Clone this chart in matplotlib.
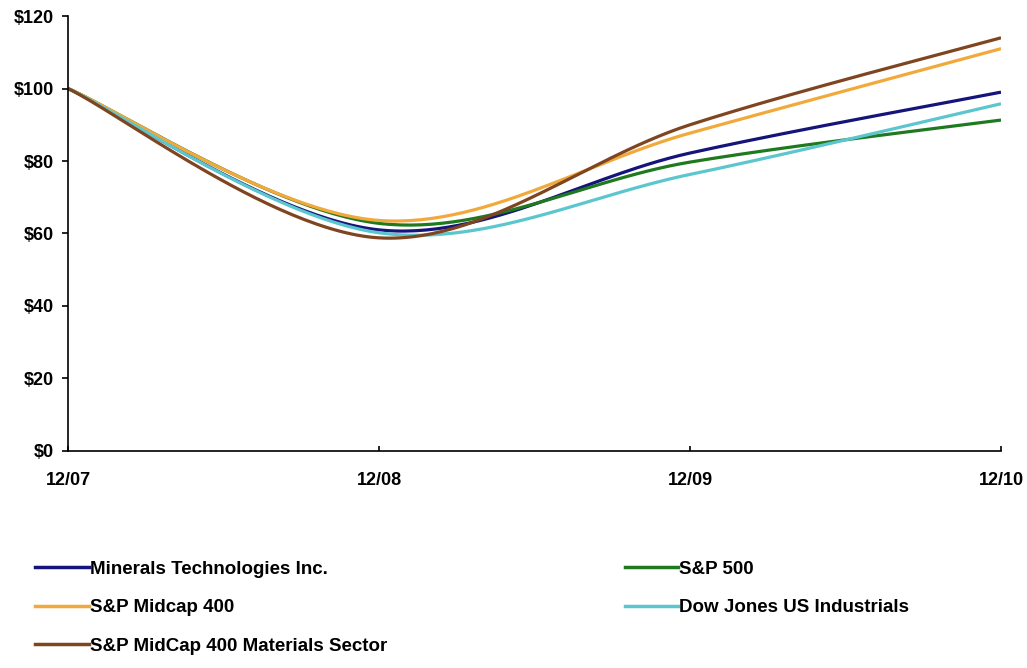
import numpy as np
import matplotlib.pyplot as plt
from matplotlib.lines import Line2D

dates = ['12/07', '12/08', '12/09', '12/10']

minerals = [100, 61.0, 82.2, 99.0]
sp500 = [100, 62.8, 79.7, 91.3]
midcap = [100, 63.6, 87.7, 111.0]
dow = [100, 60.2, 76.3, 95.8]
materials = [100, 58.8, 90.0, 114.0]

names = ['Minerals Technologies Inc.', 'S&P 500', 'S&P Midcap 400',
         'Dow Jones US Industrials', 'S&P MidCap 400 Materials Sector']
colors = ['#14147a', '#1f7a1f', '#f2a93b', '#5cc6cf', '#7e4520']
series = [minerals, sp500, midcap, dow, materials]


def smooth(xs, ys, n=60):
    # excel style smoothed line (bezier through the points)
    xs = np.asarray(xs, float)
    ys = np.asarray(ys, float)
    px = np.concatenate([[xs[0]], xs, [xs[-1]]])
    py = np.concatenate([[ys[0]], ys, [ys[-1]]])
    ox, oy = [], []
    t = np.linspace(0, 1, n)
    for i in range(1, len(px) - 2):
        p0 = np.array([px[i], py[i]])
        p3 = np.array([px[i + 1], py[i + 1]])
        p1 = p0 + (np.array([px[i + 1], py[i + 1]]) - np.array([px[i - 1], py[i - 1]])) / 6
        p2 = p3 - (np.array([px[i + 2], py[i + 2]]) - np.array([px[i], py[i]])) / 6
        b = ((1 - t) ** 3)[:, None] * p0 + (3 * (1 - t) ** 2 * t)[:, None] * p1 \
            + (3 * (1 - t) * t ** 2)[:, None] * p2 + (t ** 3)[:, None] * p3
        ox.extend(b[:, 0])
        oy.extend(b[:, 1])
    return ox, oy


fig = plt.figure(figsize=(10.27, 6.68), dpi=100)
ax = fig.add_axes([0.0662, 0.3249, 0.9085, 0.6511])

x = np.arange(len(dates))
for vals, c in zip(series, colors):
    sx, sy = smooth(x, vals)
    ax.plot(sx, sy, color=c, lw=2.3, solid_capstyle='butt')

ax.set_xlim(0, 3)
ax.set_ylim(0, 120)
ax.set_xticks(x)
ax.set_xticklabels(dates)
ax.set_yticks(range(0, 121, 20))
ax.set_yticklabels(['$%d' % v for v in range(0, 121, 20)])
for lab in ax.get_xticklabels() + ax.get_yticklabels():
    lab.set_fontweight('bold')
    lab.set_fontsize(13)
    lab.set_family(['Liberation Sans', 'DejaVu Sans'])
ax.spines['top'].set_visible(False)
ax.spines['right'].set_visible(False)
ax.spines['left'].set_linewidth(1.2)
ax.spines['bottom'].set_linewidth(1.2)
ax.tick_params(axis='y', length=4.5, width=1.2, pad=5.5)
ax.tick_params(axis='x', direction='in', length=3.5, width=1.2, pad=15)

# legend laid out like the original, two columns
handles = [Line2D([0], [0], color=c, lw=2.5) for c in colors]
order = [0, 2, 4, 1, 3]
leg = fig.legend([handles[i] for i in order], [names[i] for i in order],
                 ncol=2, loc='upper left', bbox_to_anchor=(0.018, 0.186),
                 frameon=False, handlelength=2.85, handletextpad=0.05,
                 columnspacing=12.67, labelspacing=1.14,
                 prop={'family': ['Liberation Sans', 'DejaVu Sans'],
                       'weight': 'bold', 'size': 13.5})

fig.savefig('out.png', dpi=100)
